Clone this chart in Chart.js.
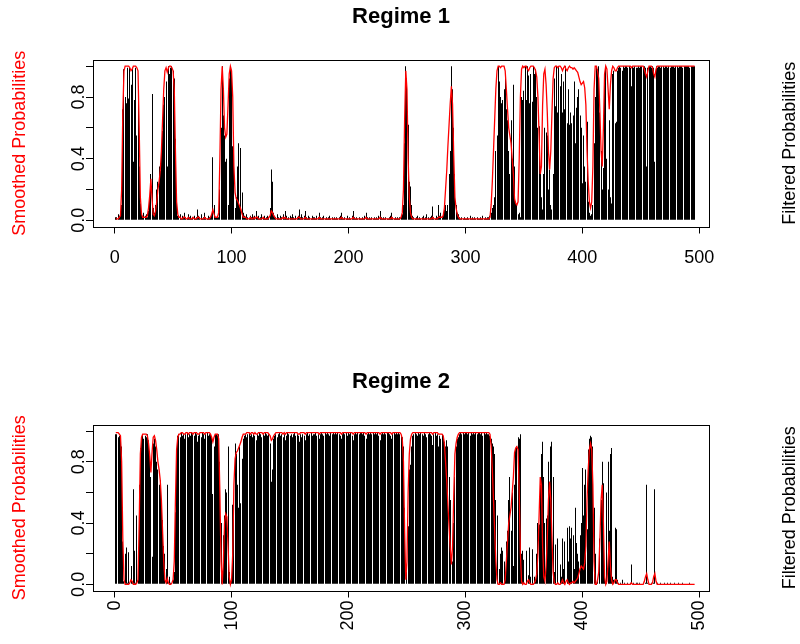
<!DOCTYPE html>
<html><head><meta charset="utf-8">
<script src="https://cdn.jsdelivr.net/npm/chart.js@4.4.0/dist/chart.umd.min.js"></script>
<style>
html,body{margin:0;padding:0;background:#fff;width:800px;height:644px;overflow:hidden}
#c1{position:absolute;left:0;top:0}
#c2{position:absolute;left:0;top:365px}
</style></head><body>
<canvas id="c1" width="800" height="365"></canvas>
<canvas id="c2" width="800" height="279"></canvas>
<script>
const regimeTitles = ['Regime 1', 'Regime 2'];
const xTicks = [0, 100, 200, 300, 400, 500];
const yTicks = [0, 0.2, 0.4, 0.6, 0.8, 1.0];
const yTickLabels = ['0.0', '', '0.4', '', '0.8', ''];
const smoothedLabel = 'Smoothed Probabilities';
const filteredLabel = 'Filtered Probabilities';

const regime1Smoothed = [
0.01,0.01,0.01,0.02,0.03,0.20,0.70,0.97,1.00,1.00,
1.00,1.00,0.99,0.97,0.98,1.00,1.00,1.00,0.99,0.97,
0.60,0.15,0.04,0.02,0.02,0.02,0.02,0.03,0.08,0.16,
0.27,0.14,0.04,0.03,0.06,0.12,0.20,0.25,0.32,0.45,
0.65,0.85,0.97,0.99,0.96,0.99,1.00,1.00,0.99,0.97,
0.85,0.45,0.12,0.04,0.02,0.02,0.01,0.01,0.02,0.02,
0.01,0.01,0.02,0.01,0.01,0.01,0.02,0.01,0.01,0.01,
0.02,0.02,0.01,0.01,0.01,0.01,0.02,0.01,0.01,0.01,
0.01,0.02,0.04,0.07,0.04,0.02,0.02,0.02,0.05,0.40,
0.85,1.00,0.85,0.60,0.54,0.56,0.75,0.95,1.00,0.97,
0.80,0.35,0.18,0.14,0.13,0.11,0.09,0.07,0.04,0.02,
0.02,0.02,0.01,0.01,0.01,0.02,0.01,0.01,0.02,0.01,
0.02,0.02,0.01,0.01,0.01,0.01,0.02,0.01,0.01,0.01,
0.01,0.02,0.03,0.06,0.05,0.03,0.02,0.01,0.01,0.01,
0.01,0.01,0.01,0.02,0.01,0.02,0.01,0.01,0.01,0.01,
0.01,0.01,0.01,0.01,0.01,0.01,0.02,0.02,0.01,0.01,
0.01,0.01,0.02,0.01,0.01,0.01,0.01,0.01,0.01,0.01,
0.01,0.01,0.01,0.01,0.02,0.01,0.01,0.01,0.01,0.01,
0.01,0.01,0.01,0.01,0.01,0.01,0.01,0.01,0.01,0.01,
0.01,0.01,0.01,0.02,0.01,0.01,0.01,0.01,0.01,0.01,
0.01,0.01,0.01,0.02,0.01,0.01,0.01,0.01,0.01,0.01,
0.01,0.01,0.01,0.01,0.02,0.01,0.01,0.01,0.01,0.01,
0.01,0.01,0.01,0.01,0.01,0.01,0.02,0.01,0.01,0.01,
0.01,0.01,0.01,0.01,0.01,0.01,0.02,0.01,0.01,0.01,
0.01,0.01,0.01,0.01,0.02,0.05,0.20,0.65,0.97,0.85,
0.40,0.15,0.05,0.02,0.01,0.01,0.01,0.01,0.01,0.01,
0.01,0.01,0.01,0.01,0.01,0.01,0.01,0.01,0.01,0.01,
0.01,0.02,0.01,0.01,0.01,0.01,0.02,0.02,0.02,0.02,
0.03,0.08,0.20,0.32,0.48,0.62,0.76,0.87,0.75,0.42,
0.15,0.08,0.04,0.02,0.01,0.01,0.01,0.01,0.01,0.01,
0.01,0.01,0.01,0.01,0.01,0.01,0.01,0.01,0.01,0.01,
0.01,0.01,0.01,0.01,0.01,0.01,0.01,0.01,0.01,0.01,
0.02,0.10,0.25,0.45,0.65,0.85,0.97,1.00,1.00,0.99,
1.00,1.00,1.00,0.97,0.85,0.72,0.60,0.55,0.50,0.40,
0.30,0.14,0.11,0.10,0.12,0.40,0.80,0.98,1.00,0.99,
1.00,1.00,0.98,0.97,0.99,1.00,1.00,1.00,0.99,0.97,
0.93,0.80,0.55,0.30,0.35,0.75,0.95,0.98,0.88,0.70,
0.45,0.33,0.45,0.70,0.92,0.99,1.00,1.00,0.99,1.00,
1.00,0.99,0.97,0.99,1.00,0.98,0.97,0.99,1.00,0.99,
0.99,0.98,0.99,0.98,0.97,0.96,0.93,0.90,0.88,0.89,
0.90,0.86,0.75,0.45,0.25,0.12,0.08,0.12,0.35,0.85,
1.00,1.00,0.97,0.92,0.70,0.45,0.35,0.60,0.95,1.00,
0.98,0.85,0.72,0.88,0.97,1.00,0.99,0.97,0.97,0.99,
1.00,1.00,1.00,1.00,1.00,1.00,1.00,1.00,1.00,1.00,
1.00,0.99,1.00,1.00,1.00,1.00,1.00,1.00,1.00,1.00,
1.00,1.00,0.98,0.95,0.93,0.97,1.00,1.00,1.00,0.99,
0.95,0.93,0.98,1.00,1.00,1.00,1.00,1.00,1.00,1.00,
1.00,1.00,1.00,1.00,1.00,1.00,1.00,1.00,1.00,1.00,
1.00,1.00,1.00,1.00,1.00,1.00,1.00,1.00,1.00,1.00,
1.00,1.00,1.00,1.00,1.00,1.00
];

const regime1Filtered = [
0.02,0.02,0.04,0.03,0.03,0.10,0.72,0.98,0.80,0.76,
0.99,0.79,0.99,0.88,0.99,0.38,0.78,0.99,0.55,0.76,
0.35,0.11,0.04,0.02,0.05,0.03,0.04,0.02,0.06,0.15,
0.30,0.82,0.08,0.05,0.10,0.20,0.25,0.35,0.32,0.45,
0.58,0.75,0.80,0.90,0.35,1.00,0.95,0.99,1.00,0.97,
0.92,0.53,0.12,0.03,0.02,0.04,0.01,0.03,0.02,0.05,
0.02,0.01,0.04,0.02,0.03,0.01,0.02,0.03,0.01,0.02,
0.07,0.03,0.02,0.04,0.01,0.02,0.05,0.02,0.01,0.03,
0.02,0.02,0.04,0.41,0.10,0.02,0.02,0.03,0.02,0.20,
0.60,1.00,0.68,0.55,0.38,0.40,0.10,0.92,1.00,0.96,
0.48,0.56,0.08,0.15,0.35,0.50,0.10,0.47,0.18,0.05,
0.03,0.02,0.04,0.02,0.01,0.03,0.02,0.04,0.02,0.03,
0.06,0.02,0.03,0.01,0.02,0.04,0.02,0.03,0.01,0.02,
0.03,0.02,0.08,0.33,0.25,0.05,0.03,0.02,0.04,0.02,
0.01,0.03,0.02,0.04,0.02,0.06,0.03,0.01,0.02,0.03,
0.02,0.04,0.02,0.01,0.03,0.02,0.03,0.07,0.02,0.04,
0.02,0.03,0.06,0.02,0.01,0.03,0.02,0.01,0.03,0.02,
0.02,0.01,0.03,0.02,0.05,0.02,0.01,0.02,0.03,0.01,
0.02,0.01,0.02,0.03,0.01,0.02,0.01,0.02,0.01,0.02,
0.01,0.02,0.03,0.05,0.02,0.01,0.02,0.01,0.03,0.01,
0.02,0.01,0.03,0.06,0.02,0.01,0.02,0.01,0.02,0.01,
0.01,0.02,0.01,0.03,0.05,0.02,0.01,0.02,0.01,0.02,
0.01,0.02,0.01,0.02,0.01,0.03,0.06,0.02,0.01,0.02,
0.01,0.02,0.01,0.01,0.02,0.03,0.05,0.02,0.01,0.02,
0.01,0.02,0.01,0.02,0.03,0.04,0.10,0.50,1.00,0.92,
0.62,0.25,0.22,0.10,0.03,0.02,0.01,0.02,0.03,0.01,
0.02,0.01,0.02,0.03,0.01,0.02,0.04,0.02,0.01,0.02,
0.03,0.09,0.02,0.01,0.03,0.02,0.10,0.03,0.05,0.02,
0.04,0.07,0.10,0.06,0.10,0.30,0.45,1.00,0.85,0.60,
0.30,0.10,0.05,0.04,0.02,0.01,0.02,0.01,0.02,0.01,
0.01,0.02,0.01,0.03,0.01,0.02,0.01,0.02,0.01,0.02,
0.01,0.01,0.02,0.01,0.03,0.01,0.02,0.01,0.02,0.02,
0.03,0.05,0.08,0.10,0.15,0.45,0.55,1.00,0.90,0.80,
0.76,0.78,0.85,0.95,0.72,0.65,0.45,0.30,0.65,0.40,
0.88,0.35,0.12,0.10,0.04,0.05,0.02,0.80,0.78,0.84,
1.00,0.78,1.00,0.94,0.76,0.95,0.77,1.00,0.95,0.98,
0.80,0.60,0.61,0.35,0.15,0.07,0.30,0.60,0.57,0.55,
0.20,0.33,0.10,0.07,0.30,0.92,0.74,1.00,0.70,1.00,
0.87,0.95,0.70,0.90,0.72,1.00,0.63,0.85,0.62,0.70,
0.63,0.68,0.90,0.50,0.73,0.80,0.85,0.68,0.60,0.24,
0.55,0.35,0.25,0.64,0.12,0.05,0.03,0.04,0.10,0.50,
0.80,1.00,0.98,1.00,0.70,0.45,0.20,0.34,0.95,1.00,
0.40,0.20,0.65,0.15,0.11,0.95,0.97,0.63,0.64,0.97,
0.99,1.00,0.99,0.97,1.00,0.99,1.00,1.00,0.99,1.00,
0.99,0.87,1.00,0.99,1.00,0.99,0.99,1.00,0.99,1.00,
1.00,0.99,1.00,0.99,0.35,0.99,1.00,1.00,0.99,1.00,
0.99,0.38,1.00,0.99,1.00,1.00,0.99,1.00,1.00,0.99,
1.00,1.00,0.99,1.00,0.99,1.00,1.00,1.00,0.99,1.00,
1.00,0.99,1.00,1.00,1.00,0.99,1.00,1.00,1.00,1.00,
1.00,0.99,1.00,1.00,1.00,1.00
];

const regime2Smoothed = [
0.99,0.99,0.99,0.98,0.97,0.80,0.30,0.03,0.00,0.00,
0.00,0.00,0.01,0.03,0.02,0.00,0.00,0.00,0.01,0.03,
0.40,0.85,0.96,0.98,0.98,0.98,0.98,0.97,0.92,0.84,
0.73,0.86,0.96,0.97,0.94,0.88,0.80,0.75,0.68,0.55,
0.35,0.15,0.03,0.01,0.04,0.01,0.00,0.00,0.01,0.03,
0.15,0.55,0.88,0.96,0.98,0.98,0.99,0.99,0.98,0.98,
0.99,0.99,0.98,0.99,0.99,0.99,0.98,0.99,0.99,0.99,
0.98,0.98,0.99,0.99,0.99,0.99,0.98,0.99,0.99,0.99,
0.99,0.98,0.96,0.93,0.96,0.98,0.98,0.98,0.95,0.60,
0.15,0.00,0.15,0.40,0.46,0.44,0.25,0.05,0.00,0.03,
0.20,0.65,0.82,0.86,0.87,0.89,0.91,0.93,0.96,0.98,
0.98,0.98,0.99,0.99,0.99,0.98,0.99,0.99,0.98,0.99,
0.98,0.98,0.99,0.99,0.99,0.99,0.98,0.99,0.99,0.99,
0.99,0.98,0.97,0.94,0.95,0.97,0.98,0.99,0.99,0.99,
0.99,0.99,0.99,0.98,0.99,0.98,0.99,0.99,0.99,0.99,
0.99,0.99,0.99,0.99,0.99,0.99,0.98,0.98,0.99,0.99,
0.99,0.99,0.98,0.99,0.99,0.99,0.99,0.99,0.99,0.99,
0.99,0.99,0.99,0.99,0.98,0.99,0.99,0.99,0.99,0.99,
0.99,0.99,0.99,0.99,0.99,0.99,0.99,0.99,0.99,0.99,
0.99,0.99,0.99,0.98,0.99,0.99,0.99,0.99,0.99,0.99,
0.99,0.99,0.99,0.98,0.99,0.99,0.99,0.99,0.99,0.99,
0.99,0.99,0.99,0.99,0.98,0.99,0.99,0.99,0.99,0.99,
0.99,0.99,0.99,0.99,0.99,0.99,0.98,0.99,0.99,0.99,
0.99,0.99,0.99,0.99,0.99,0.99,0.98,0.99,0.99,0.99,
0.99,0.99,0.99,0.99,0.98,0.95,0.80,0.35,0.03,0.15,
0.60,0.85,0.95,0.98,0.99,0.99,0.99,0.99,0.99,0.99,
0.99,0.99,0.99,0.99,0.99,0.99,0.99,0.99,0.99,0.99,
0.99,0.98,0.99,0.99,0.99,0.99,0.98,0.98,0.98,0.98,
0.97,0.92,0.80,0.68,0.52,0.38,0.24,0.13,0.25,0.58,
0.85,0.92,0.96,0.98,0.99,0.99,0.99,0.99,0.99,0.99,
0.99,0.99,0.99,0.99,0.99,0.99,0.99,0.99,0.99,0.99,
0.99,0.99,0.99,0.99,0.99,0.99,0.99,0.99,0.99,0.99,
0.98,0.90,0.75,0.55,0.35,0.15,0.03,0.00,0.00,0.01,
0.00,0.00,0.00,0.03,0.15,0.28,0.40,0.45,0.50,0.60,
0.70,0.86,0.89,0.90,0.88,0.60,0.20,0.02,0.00,0.01,
0.00,0.00,0.02,0.03,0.01,0.00,0.00,0.00,0.01,0.03,
0.07,0.20,0.45,0.70,0.65,0.25,0.05,0.02,0.12,0.30,
0.55,0.67,0.55,0.30,0.08,0.01,0.00,0.00,0.01,0.00,
0.00,0.01,0.03,0.01,0.00,0.02,0.03,0.01,0.00,0.01,
0.01,0.02,0.01,0.02,0.03,0.04,0.07,0.10,0.12,0.11,
0.10,0.14,0.25,0.55,0.75,0.88,0.92,0.88,0.65,0.15,
0.00,0.00,0.03,0.08,0.30,0.55,0.65,0.40,0.05,0.00,
0.02,0.15,0.28,0.12,0.03,0.00,0.01,0.03,0.03,0.01,
0.00,0.00,0.00,0.00,0.00,0.00,0.00,0.00,0.00,0.00,
0.00,0.01,0.00,0.00,0.00,0.00,0.00,0.00,0.00,0.00,
0.00,0.00,0.02,0.05,0.07,0.03,0.00,0.00,0.00,0.01,
0.05,0.07,0.02,0.00,0.00,0.00,0.00,0.00,0.00,0.00,
0.00,0.00,0.00,0.00,0.00,0.00,0.00,0.00,0.00,0.00,
0.00,0.00,0.00,0.00,0.00,0.00,0.00,0.00,0.00,0.00,
0.00,0.00,0.00,0.00,0.00,0.00
];

const regime2Filtered = [
0.98,0.98,0.96,0.97,0.97,0.90,0.28,0.02,0.20,0.24,
0.01,0.21,0.01,0.12,0.01,0.62,0.22,0.01,0.45,0.24,
0.65,0.89,0.96,0.98,0.95,0.97,0.96,0.98,0.94,0.85,
0.70,0.18,0.92,0.95,0.90,0.80,0.75,0.65,0.68,0.55,
0.42,0.25,0.20,0.10,0.65,0.00,0.05,0.01,0.00,0.03,
0.08,0.47,0.88,0.97,0.98,0.96,0.99,0.97,0.98,0.95,
0.98,0.99,0.96,0.98,0.97,0.99,0.98,0.97,0.99,0.98,
0.93,0.97,0.98,0.96,0.99,0.98,0.95,0.98,0.99,0.97,
0.98,0.98,0.96,0.59,0.90,0.98,0.98,0.97,0.98,0.80,
0.40,0.00,0.32,0.45,0.62,0.60,0.90,0.08,0.00,0.04,
0.52,0.44,0.92,0.85,0.65,0.50,0.90,0.53,0.82,0.95,
0.97,0.98,0.96,0.98,0.99,0.97,0.98,0.96,0.98,0.97,
0.94,0.98,0.97,0.99,0.98,0.96,0.98,0.97,0.99,0.98,
0.97,0.98,0.92,0.67,0.75,0.95,0.97,0.98,0.96,0.98,
0.99,0.97,0.98,0.96,0.98,0.94,0.97,0.99,0.98,0.97,
0.98,0.96,0.98,0.99,0.97,0.98,0.97,0.93,0.98,0.96,
0.98,0.97,0.94,0.98,0.99,0.97,0.98,0.99,0.97,0.98,
0.98,0.99,0.97,0.98,0.95,0.98,0.99,0.98,0.97,0.99,
0.98,0.99,0.98,0.97,0.99,0.98,0.99,0.98,0.99,0.98,
0.99,0.98,0.97,0.95,0.98,0.99,0.98,0.99,0.97,0.99,
0.98,0.99,0.97,0.94,0.98,0.99,0.98,0.99,0.98,0.99,
0.99,0.98,0.99,0.97,0.95,0.98,0.99,0.98,0.99,0.98,
0.99,0.98,0.99,0.98,0.99,0.97,0.94,0.98,0.99,0.98,
0.99,0.98,0.99,0.99,0.98,0.97,0.95,0.98,0.99,0.98,
0.99,0.98,0.99,0.98,0.97,0.96,0.90,0.50,0.00,0.08,
0.38,0.75,0.78,0.90,0.97,0.98,0.99,0.98,0.97,0.99,
0.98,0.99,0.98,0.97,0.99,0.98,0.96,0.98,0.99,0.98,
0.97,0.91,0.98,0.99,0.97,0.98,0.90,0.97,0.95,0.98,
0.96,0.93,0.90,0.94,0.90,0.70,0.55,0.00,0.15,0.40,
0.70,0.90,0.95,0.96,0.98,0.99,0.98,0.99,0.98,0.99,
0.99,0.98,0.99,0.97,0.99,0.98,0.99,0.98,0.99,0.98,
0.99,0.99,0.98,0.99,0.97,0.99,0.98,0.99,0.98,0.98,
0.97,0.95,0.92,0.90,0.85,0.55,0.45,0.00,0.10,0.20,
0.24,0.22,0.15,0.05,0.28,0.35,0.55,0.70,0.35,0.60,
0.12,0.65,0.88,0.90,0.96,0.95,0.98,0.20,0.22,0.16,
0.00,0.22,0.00,0.06,0.24,0.05,0.23,0.00,0.05,0.02,
0.20,0.40,0.39,0.65,0.85,0.93,0.70,0.40,0.43,0.45,
0.80,0.67,0.90,0.93,0.70,0.08,0.26,0.00,0.30,0.00,
0.13,0.05,0.30,0.10,0.28,0.00,0.37,0.15,0.38,0.30,
0.37,0.32,0.10,0.50,0.27,0.20,0.15,0.32,0.40,0.76,
0.45,0.65,0.75,0.36,0.88,0.95,0.97,0.96,0.90,0.50,
0.20,0.00,0.02,0.00,0.30,0.55,0.80,0.66,0.05,0.00,
0.60,0.80,0.35,0.85,0.89,0.05,0.03,0.37,0.36,0.03,
0.01,0.00,0.01,0.03,0.00,0.01,0.00,0.00,0.01,0.00,
0.01,0.13,0.00,0.01,0.00,0.01,0.01,0.00,0.01,0.00,
0.00,0.01,0.00,0.01,0.65,0.01,0.00,0.00,0.01,0.00,
0.01,0.62,0.00,0.01,0.00,0.00,0.01,0.00,0.00,0.01,
0.00,0.00,0.01,0.00,0.01,0.00,0.00,0.00,0.01,0.00,
0.00,0.01,0.00,0.00,0.00,0.01,0.00,0.00,0.00,0.00,
0.00,0.01,0.00,0.00,0.00,0.00
];

const timeIndex = regime1Smoothed.map((_, i) => i + 1);

const FONT = '"Liberation Sans", Arial, Helvetica, sans-serif';
Chart.defaults.font.family = FONT;
Chart.defaults.color = '#000';

// Snap each bar (computed by the library's x scale) to the device pixel grid, like R's type="h" lines.
const pixelSnap = {
  id: 'pixelSnap',
  afterDatasetsUpdate(chart) {
    chart.data.datasets.forEach((ds, i) => {
      const meta = chart.getDatasetMeta(i);
      if (meta.type !== 'bar') return;
      meta.data.forEach(el => { el.x = Math.round(el.x - 0.5) + 0.5; });
    });
  }
};

const decor = {
  id: 'decor',
  afterDraw(chart, args, o) {
    const ctx = chart.ctx, a = chart.chartArea;
    ctx.save();
    ctx.strokeStyle = '#000';
    ctx.lineWidth = 1;
    ctx.strokeRect(Math.round(a.left) + 0.5, Math.round(a.top) + 0.5,
                   Math.round(a.right - a.left), Math.round(a.bottom - a.top));
    ctx.fillStyle = '#000';
    ctx.textAlign = 'center';
    ctx.textBaseline = 'middle';
    ctx.font = 'bold 22px ' + FONT;
    ctx.fillText(o.title, (a.left + a.right) / 2, 17);
    const ys = chart.scales.y;
    ctx.font = '18px ' + FONT;
    yTicks.forEach((v, i) => {
      const lab = yTickLabels[i];
      if (!lab) return;
      ctx.save();
      ctx.translate(79, ys.getPixelForValue(v));
      ctx.rotate(-Math.PI / 2);
      ctx.fillText(lab, 0, 0);
      ctx.restore();
    });
    const cy = (a.top + a.bottom) / 2;
    ctx.save();
    ctx.translate(20, cy);
    ctx.rotate(-Math.PI / 2);
    ctx.fillStyle = '#ff0000';
    ctx.fillText(smoothedLabel, 0, 0);
    ctx.restore();
    ctx.save();
    ctx.translate(790, cy);
    ctx.rotate(-Math.PI / 2);
    ctx.fillStyle = '#000';
    ctx.fillText(filteredLabel, 0, 0);
    ctx.restore();
    ctx.restore();
  }
};

function makeChart(id, title, smoothed, filtered, bottomPad, rot, tickPad) {
  return new Chart(document.getElementById(id), {
    type: 'bar',
    data: {
      datasets: [
        { type: 'line', data: timeIndex.map((t, i) => ({ x: t, y: smoothed[i] })),
          borderColor: '#ff0000', borderWidth: 1.3, pointRadius: 0, tension: 0, fill: false, order: 0 },
        { type: 'bar', data: timeIndex.map((t, i) => ({ x: t, y: filtered[i] })),
          backgroundColor: '#000', borderWidth: 0, barThickness: 1, inflateAmount: 0, order: 1 }
      ]
    },
    options: {
      responsive: false, animation: false, devicePixelRatio: 1,
      layout: { padding: { top: 60, right: 91, bottom: bottomPad, left: 0 } },
      plugins: { legend: { display: false }, tooltip: { enabled: false }, decor: { title } },
      scales: {
        x: {
          type: 'linear', min: -18.5, max: 508.3, offset: false,
          afterBuildTicks: s => { s.ticks = xTicks.map(v => ({ value: v })); },
          afterFit: s => { s.height = 50; },
          grid: { display: true, offset: false, drawOnChartArea: false, drawTicks: true, tickLength: 7, color: '#000', tickColor: '#000' },
          border: { display: false },
          ticks: { color: '#000', font: { size: 18, family: FONT }, padding: tickPad,
                   minRotation: rot, maxRotation: rot, autoSkip: false, callback: v => String(v) }
        },
        y: {
          type: 'linear', min: -0.04, max: 1.04,
          afterBuildTicks: s => { s.ticks = yTicks.map(v => ({ value: v })); },
          afterFit: s => { s.width = 93; },
          grid: { display: true, drawOnChartArea: false, drawTicks: true, tickLength: 7, color: '#000', tickColor: '#000' },
          border: { display: false },
          ticks: { color: 'rgba(0,0,0,0)', font: { size: 18, family: FONT }, padding: 2 }
        }
      }
    },
    plugins: [pixelSnap, decor]
  });
}

makeChart('c1', regimeTitles[0], regime1Smoothed, regime1Filtered, 88.5, 0, 14);
makeChart('c2', regimeTitles[1], regime2Smoothed, regime2Filtered, 3.5, 90, 3);
</script>
</body></html>
